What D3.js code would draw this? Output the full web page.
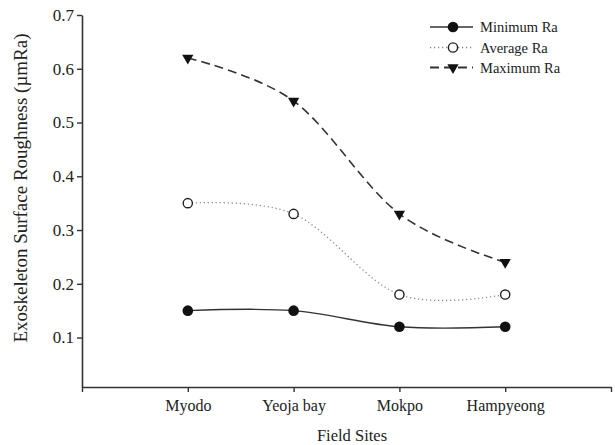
<!DOCTYPE html>
<html><head><meta charset="utf-8">
<script src="https://cdn.jsdelivr.net/npm/d3@7"></script>
<style>body{margin:0;background:#fff}svg{display:block}</style>
</head><body><svg id="c" width="615" height="445" font-family="Liberation Serif, Times New Roman, serif"></svg>
<script>
const sites = ["Myodo","Yeoja bay","Mokpo","Hampyeong"];
const minRa = [0.15,0.15,0.12,0.12];
const avgRa = [0.35,0.33,0.18,0.18];
const maxRa = [0.62,0.54,0.33,0.24];
const yTicks = [0.1,0.2,0.3,0.4,0.5,0.6,0.7];
const seriesNames = ["Minimum Ra","Average Ra","Maximum Ra"];
const FONT = "Liberation Serif, Times New Roman, serif";

const svg = d3.select("#c");
const x = d3.scaleLinear().domain([0,5]).range([82,611]);
const y = d3.scaleLinear().domain([0.008,0.7]).range([387,15]);
const ink = "#333";

const gx = svg.append("g").attr("transform","translate(0,387)")
  .call(d3.axisBottom(x).tickValues([0,1,2,3,4,5]).tickSize(5).tickSizeOuter(0)
    .tickFormat(d => (d>=1&&d<=4)? sites[d-1] : ""));
gx.attr("font-family",FONT);
gx.select(".domain").attr("stroke",ink).attr("stroke-width",1.6);
gx.selectAll(".tick line").attr("stroke",ink).attr("stroke-width",1.4);
gx.selectAll(".tick text").attr("font-family",FONT).attr("font-size",16).attr("dy","1.0em").attr("fill","#222");

const gy = svg.append("g").attr("transform","translate(82,0)")
  .call(d3.axisLeft(y).tickValues(yTicks).tickSize(5).tickSizeOuter(0).tickFormat(d3.format(".1f")));
gy.attr("font-family",FONT);
gy.select(".domain").attr("stroke",ink).attr("stroke-width",1.6);
gy.selectAll(".tick line").attr("stroke",ink).attr("stroke-width",1.4);
gy.selectAll(".tick text").attr("font-family",FONT).attr("font-size",17).attr("x",-8).attr("fill","#222");

svg.append("text").attr("x",352).attr("y",441).attr("text-anchor","middle").attr("font-family",FONT).attr("font-size",16.5).attr("fill","#222").text("Field Sites");
svg.append("text").attr("transform","translate(27,188) rotate(-90)").attr("text-anchor","middle").attr("font-family",FONT).attr("font-size",19).attr("fill","#222")
  .text("Exoskeleton Surface Roughness (\u00b5mRa)");

const line = d3.line().x((d,i)=>x(i+1)).y(d=>y(d)).curve(d3.curveCardinal.tension(0));
const styles = [
  {data:minRa, dash:null, color:"#333", w:1.4},
  {data:avgRa, dash:"1.2,2.8", color:"#888", w:1.3},
  {data:maxRa, dash:"9,5", color:"#333", w:1.6}
];
styles.forEach(s=>{
  svg.append("path").attr("d",line(s.data)).attr("fill","none").attr("stroke",s.color)
    .attr("stroke-width",s.w).attr("stroke-dasharray",s.dash);
});
const tri = d3.symbol().type(d3.symbolTriangle).size(55);
function marker(g,k,cx,cy){
  if(k===0) g.append("circle").attr("cx",cx).attr("cy",cy).attr("r",5.3).attr("fill","#111");
  else if(k===1) g.append("circle").attr("cx",cx).attr("cy",cy).attr("r",4.6).attr("fill","#fff").attr("stroke","#222").attr("stroke-width",1.4);
  else g.append("path").attr("d",tri).attr("transform",`translate(${cx},${cy}) rotate(180)`).attr("fill","#111");
}
const mg = svg.append("g");
styles.forEach((s,k)=> s.data.forEach((v,i)=> marker(mg,k,x(i+1),y(v))));

const lg = svg.append("g");
const ly = [27,47.5,67.5];
seriesNames.forEach((n,k)=>{
  const s = styles[k];
  lg.append("line").attr("x1",430).attr("x2",473).attr("y1",ly[k]).attr("y2",ly[k])
    .attr("stroke",s.color).attr("stroke-width",s.w+0.3).attr("stroke-dasharray", s.dash);
  marker(lg,k,453,ly[k]);
  lg.append("text").attr("x",480).attr("y",ly[k]).attr("dy","0.35em").attr("font-family",FONT).attr("font-size",14.5).attr("fill","#222").text(n);
});
</script></body></html>
